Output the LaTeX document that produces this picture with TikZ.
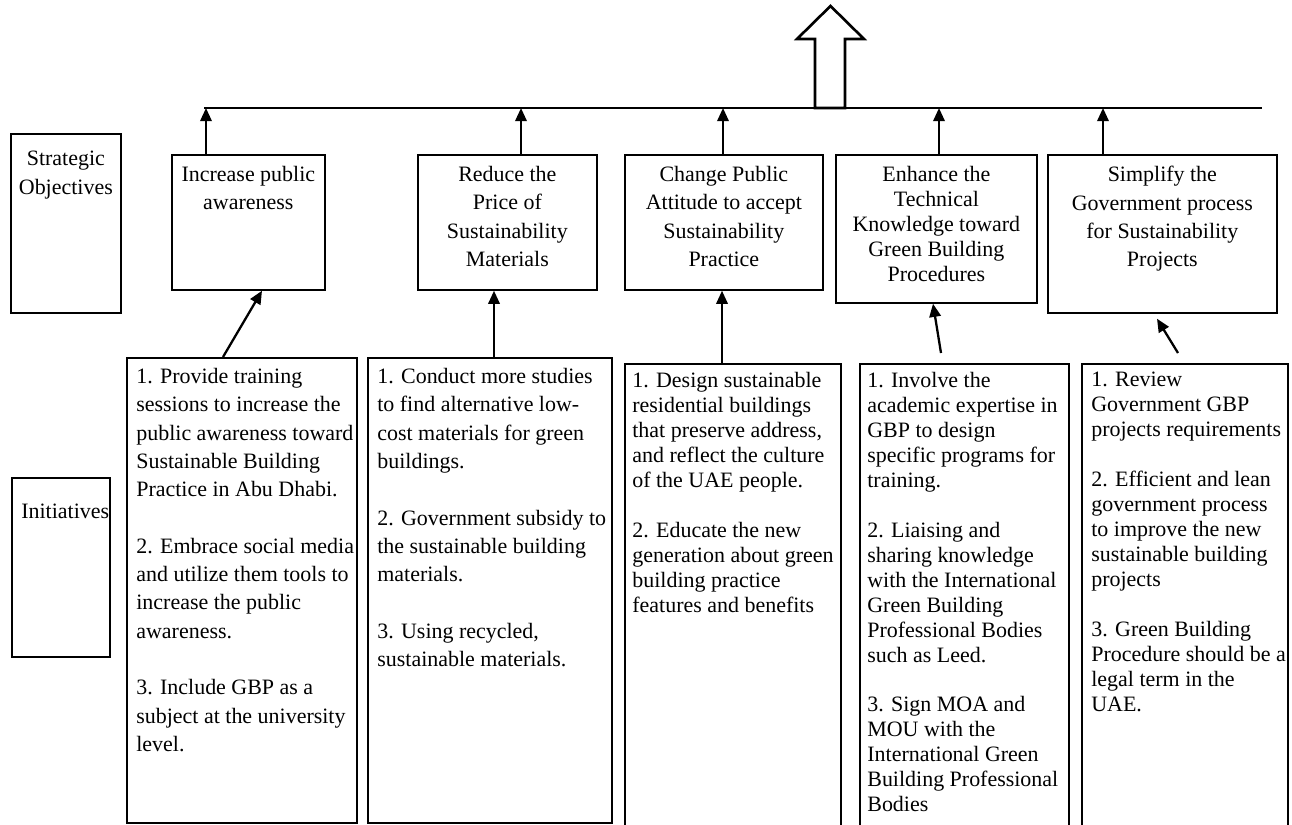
\documentclass[tikz,border=0pt]{standalone}
\usepackage{fontspec}
\setmainfont{Liberation Serif}
\usetikzlibrary{arrows.meta,calc}

\begin{document}
\begin{tikzpicture}[
        x=0.02cm, y=-0.02cm,
        box/.style={rectangle, draw=black, line width=1pt, inner sep=0pt, anchor=north west},
        wide/.style={font=\fontsize{12.5}{16.1}\selectfont},
        tight/.style={font=\fontsize{12.5}{14.2}\selectfont},
        headtext/.style={anchor=north, align=center, inner sep=0pt, yshift=-0.24cm},
        itemtext/.style={anchor=north west, align=left, inner sep=0pt, xshift=0.2cm, yshift=-0.22cm},
        link/.style={-{Triangle[length=7.5pt,width=6.5pt]}, line width=1.3pt},
    ]
        \useasboundingbox (0,0) rectangle (1292,825);

        % Row labels
        \node[box, minimum width=2.2cm, minimum height=3.58cm, label={[headtext, wide, yshift=-0.12cm]north:{Strategic\\Objectives}}] (strat) at (10,133) {};
        \node[box, minimum width=1.96cm, minimum height=3.58cm, label={[itemtext, wide, yshift=-0.32cm]north west:{Initiatives}}] (initlbl) at (11,477) {};

        % Strategic objectives
        \node[box, minimum width=3.06cm, minimum height=2.7cm, label={[headtext, wide]north:{Increase public\\awareness}}] (obj1) at (171,154) {};
        \node[box, minimum width=3.58cm, minimum height=2.7cm, label={[headtext, wide]north:{Reduce the\\Price of\\Sustainability\\Materials}}] (obj2) at (417,154) {};
        \node[box, minimum width=3.96cm, minimum height=2.7cm, label={[headtext, wide]north:{Change Public\\Attitude to accept\\Sustainability\\Practice}}] (obj3) at (624,154) {};
        \node[box, minimum width=4.02cm, minimum height=2.96cm, label={[headtext, tight]north:{Enhance the\\Technical\\Knowledge toward\\Green Building\\Procedures}}] (obj4) at (835,154) {};
        \node[box, minimum width=4.58cm, minimum height=3.16cm, label={[headtext, wide]north:{Simplify the\\Government process\\for Sustainability\\Projects}}] (obj5) at (1047,154) {};

        % Initiatives
        \node[box, minimum width=4.6cm, minimum height=9.3cm, label={[itemtext, wide]north west:{1. Provide training\\sessions to increase the\\public awareness toward\\Sustainable Building\\Practice in Abu Dhabi.\\[\baselineskip]2. Embrace social media\\and utilize them tools to\\increase the public\\awareness.\\[\baselineskip]3. Include GBP as a\\subject at the university\\level.}}] (init1) at (126,357) {};
        \node[box, minimum width=4.88cm, minimum height=9.3cm, label={[itemtext, wide]north west:{1. Conduct more studies\\to find alternative low-\\cost materials for green\\buildings.\\[\baselineskip]2. Government subsidy to\\the sustainable building\\materials.\\[\baselineskip]3. Using recycled,\\sustainable materials.}}] (init2) at (367,357) {};
        \node[box, minimum width=4.32cm, minimum height=9.4cm, label={[itemtext, tight, xshift=-0.04cm, yshift=0.04cm]north west:{1. Design sustainable\\residential buildings\\that preserve address,\\and reflect the culture\\of the UAE people.\\[\baselineskip]2. Educate the new\\generation about green\\building practice\\features and benefits}}] (init3) at (624,363) {};
        \node[box, minimum width=4.18cm, minimum height=9.4cm, label={[itemtext, tight, xshift=-0.04cm, yshift=0.04cm]north west:{1. Involve the\\academic expertise in\\GBP to design\\specific programs for\\training.\\[\baselineskip]2. Liaising and\\sharing knowledge\\with the International\\Green Building\\Professional Bodies\\such as Leed.\\[\baselineskip]3. Sign MOA and\\MOU with the\\International Green\\Building Professional\\Bodies}}] (init4) at (859,363) {};
        \node[box, minimum width=4.12cm, minimum height=9.4cm, label={[itemtext, tight, yshift=0.04cm]north west:{1. Review\\Government GBP\\projects requirements\\[\baselineskip]2. Efficient and lean\\government process\\to improve the new\\sustainable building\\projects\\[\baselineskip]3. Green Building\\Procedure should be a\\legal term in the\\UAE.}}] (init5) at (1081,363) {};

        % Goal arrow and bus
        \draw[line width=1.5pt, fill=white] (815,108) -- (815,39) -- (797,39) -- (830.5,6) -- (864,39) -- (845,39) -- (845,108) -- cycle;
        \coordinate (busL) at (204,108);
        \coordinate (busR) at (1262,108);
        \draw[line width=1.5pt] (busL) -- (busR);

        % Arrows
        \foreach \n/\x in {obj1/206, obj2/521, obj3/723, obj4/939, obj5/1103} {
            \coordinate (top\n) at (\x,108);
            \draw[link] (top\n |- \n.north) -- (top\n);
        }
        \draw[link] ($(init1.north west)+(97,0)$) -- ($(obj1.south west)+(91,0)$);
        \draw[link] ($(init2.north west)+(127,0)$) -- ($(obj2.south west)+(77,0)$);
        \draw[link] ($(init3.north west)+(98,0)$) -- ($(obj3.south west)+(98,0)$);
        \draw[link] ($(init4.north west)+(82,-10)$) -- ($(obj4.south west)+(98,0)$);
        \draw[link] ($(init5.north west)+(97,-10)$) -- ($(obj5.south west)+(110,5)$);

    \end{tikzpicture}
\end{document}
